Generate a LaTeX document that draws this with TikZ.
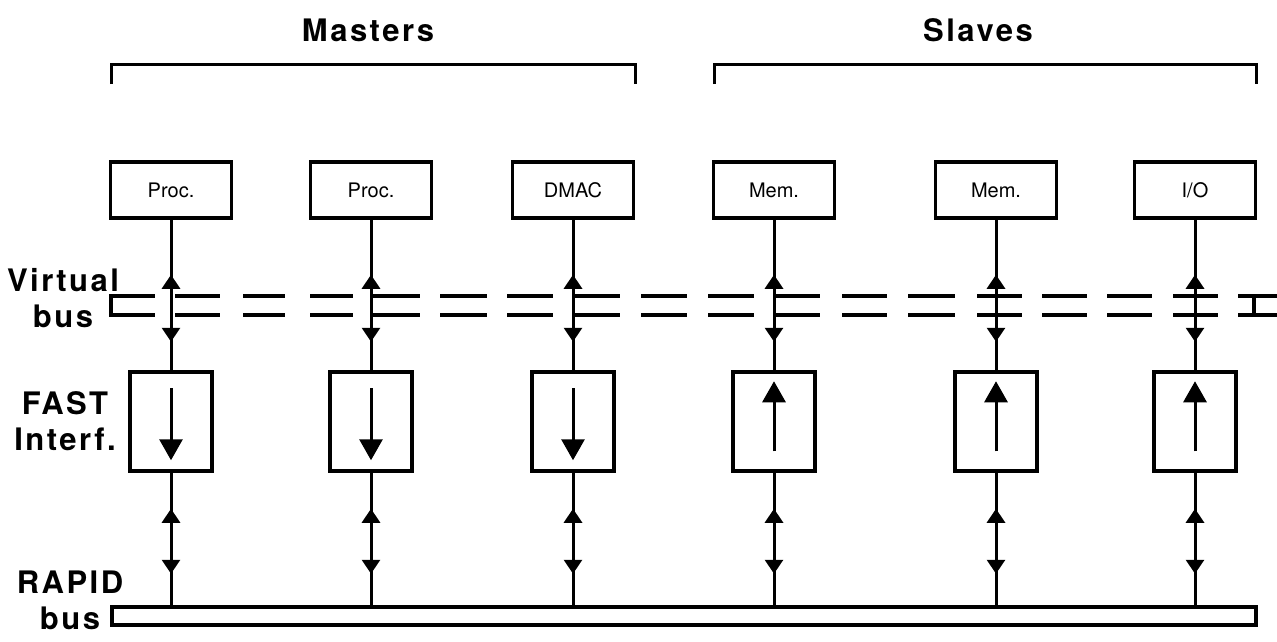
\documentclass[tikz,border=0pt]{standalone}
\usepackage{fontspec}
\setmainfont{TeX Gyre Heros}
\newfontfamily\lblfont[LetterSpace=8]{TeX Gyre Heros}
\usetikzlibrary{arrows.meta,decorations.markings,calc}
\begin{document}
\begin{tikzpicture}[x=1pt,y=-1pt,
  topbox/.style={draw, line width=3.5pt, minimum width=121pt, minimum height=56pt, inner sep=0pt, font=\fontsize{20}{23}\selectfont},
  fastbox/.style={draw, line width=3.5pt, minimum width=82pt, minimum height=99pt, inner sep=0pt},
  lbl/.style={font=\lblfont\bfseries\fontsize{31}{36}\selectfont, align=center, inner sep=0pt},
  conn/.style={line width=3pt},
  upper/.style={conn, postaction={decorate}, decoration={markings,
     mark=at position 55pt with {\arrowreversed{Triangle[length=14pt,width=18pt]}},
     mark=at position 122pt with {\arrow{Triangle[length=14pt,width=18pt]}}}},
  lower/.style={conn, postaction={decorate}, decoration={markings,
     mark=at position 36pt with {\arrowreversed{Triangle[length=14pt,width=18pt]}},
     mark=at position 101pt with {\arrow{Triangle[length=14pt,width=18pt]}}}},
  inarrow/.style={line width=3pt, -{Triangle[length=21pt,width=23pt]}},
  vbus/.style={line width=4pt},
  brack/.style={line width=3pt}
]
\useasboundingbox (0,0) rectangle (1277,642);

% group labels and brackets
\node[lbl] (masters) at (368,30) {Masters};
\node[lbl] (slaves) at (978,30) {Slaves};
\draw[brack] (111,84) -- (111,65) -- (635,65) -- (635,84);
\draw[brack] (714,84) -- (714,65) -- (1256,65) -- (1256,84);

% left labels
\node[lbl] (vlab) at (63,298) {Virtual\\bus};
\node[lbl] (flab) at (65,421) {FAST\\Interf.};
\node[lbl] (rlab) at (70,600) {RAPID\\bus};

% top boxes
\node[topbox] (p1) at (171,190) {Proc.};
\node[topbox] (p2) at (371,190) {Proc.};
\node[topbox] (p3) at (573,190) {DMAC};
\node[topbox] (p4) at (774,190) {Mem.};
\node[topbox] (p5) at (996,190) {Mem.};
\node[topbox] (p6) at (1195,190) {I/O};

% fast interface boxes
\foreach \i/\x in {1/171,2/371,3/573,4/774,5/996,6/1195}{
  \node[fastbox] (f\i) at (\x,421.5) {};
}

% rapid bus
\node[draw, line width=4pt, minimum width=1144pt, minimum height=18pt, inner sep=0pt] (bus) at (684,616) {};

% virtual bus (dashed double line)
\foreach \a/\b in {111/155,175/220,243/285,310/353,371/420,440/487,507/553,573/620,641/687,708/754,775/820,842/887,908/955,977/1022,1042/1087,1107/1152,1173/1218,1238/1277}{
  \draw[vbus] (\a,296) -- (\b,296);
  \draw[vbus] (\a,315) -- (\b,315);
}
\draw[vbus] (111,294) -- (111,317);
\draw[vbus] (1254,296) -- (1254,315);

% connectors
\foreach \i in {1,...,6}{
  \draw[upper] (p\i.south) -- (f\i.north);
  \draw[lower] (f\i.south) -- (f\i.south |- bus.north);
}

% arrows inside interface boxes
\foreach \i in {1,2,3}{
  \draw[inarrow] ($(f\i.north)+(0,18)$) -- ($(f\i.north)+(0,90)$);
}
\foreach \i in {4,5,6}{
  \draw[inarrow] ($(f\i.north)+(0,81)$) -- ($(f\i.north)+(0,11)$);
}
\end{tikzpicture}
\end{document}
